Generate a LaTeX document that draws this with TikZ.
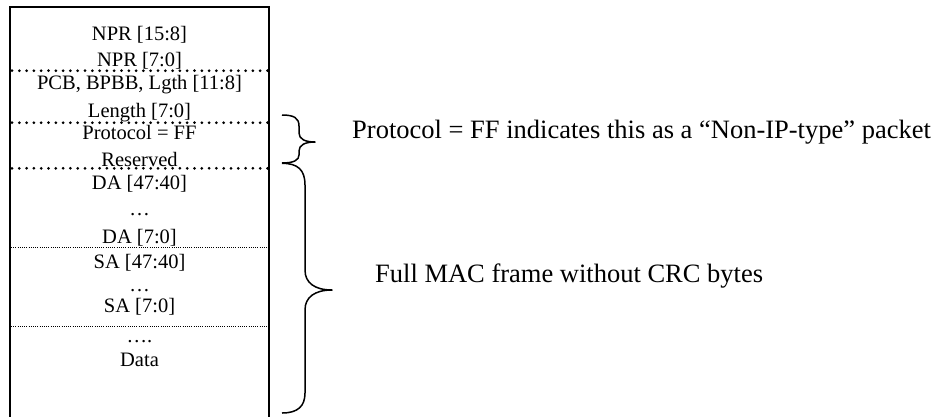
\documentclass[tikz,border=0pt]{standalone}
\usepackage{fontspec}
\setmainfont{Liberation Serif}
\begin{document}
\begin{tikzpicture}[x=1pt,y=-1pt,
  field/.style={anchor=base,inner sep=0pt,font=\fontsize{20.5}{24}\selectfont},
  note/.style={anchor=base west,inner sep=0pt,font=\fontsize{26.5}{30}\selectfont},
  heavydots/.style={line width=3pt,line cap=round,dash pattern=on 0pt off 7.3pt},
  finedots/.style={line width=0.8pt,dash pattern=on 1pt off 1.2pt},
  bracepath/.style={line width=1.5pt,line join=round}]
\useasboundingbox (0,0) rectangle (943,416);
% frame
\draw[line width=1.5pt] (10,420) -- (10,7) -- (269,7) -- (269,420);
% separators
\draw[heavydots] (12,70.7) -- (268,70.7);
\draw[heavydots] (12,122.7) -- (268,122.7);
\draw[heavydots] (12,168.3) -- (268,168.3);
\draw[finedots] (11,247.3) -- (268,247.3);
\draw[finedots] (11,326) -- (268,326);
% fields
\node[field] (f1) at (139.5,40) {NPR [15:8]};
\node[field] (f2) at (139.5,66) {NPR [7:0]};
\node[field] (f3) at (139.5,89.5) {PCB, BPBB, Lgth [11:8]};
\node[field] (f4) at (139.5,117) {Length [7:0]};
\node[field] (f5) at (139.5,139.5) {Protocol = FF};
\node[field] (f6) at (139.5,166.5) {Reserved};
\node[field] (f7) at (139.5,189) {DA [47:40]};
\node[field] (f8) at (139.5,215) {…};
\node[field] (f9) at (139.5,243) {DA [7:0]};
\node[field] (f10) at (139.5,268) {SA [47:40]};
\node[field] (f11) at (139.5,291) {…};
\node[field] (f12) at (139.5,312) {SA [7:0]};
\node[field] (f13) at (139.5,342) {….};
\node[field] (f14) at (139.5,366) {Data};
% braces
\draw[bracepath] (282,115) .. controls (294,115) and (299,118) .. (299,126)
  -- (299,133) .. controls (299,139) and (305,142) .. (315,142)
  .. controls (305,142) and (299,145) .. (299,151)
  -- (299,155) .. controls (299,160) and (294,163) .. (282,163);
\draw[bracepath] (282,163.3) .. controls (298,163.3) and (305,170) .. (305,185)
  -- (305,270) .. controls (305,283) and (315,290) .. (332,290)
  .. controls (315,290) and (305,297) .. (305,310)
  -- (305,393) .. controls (305,406) and (298,413) .. (282,413);
% notes
\node[note] (n1) at (352,138) {Protocol = FF indicates this as a “Non-IP-type” packet};
\node[note] (n2) at (375,282) {Full MAC frame without CRC bytes};
\end{tikzpicture}
\end{document}
